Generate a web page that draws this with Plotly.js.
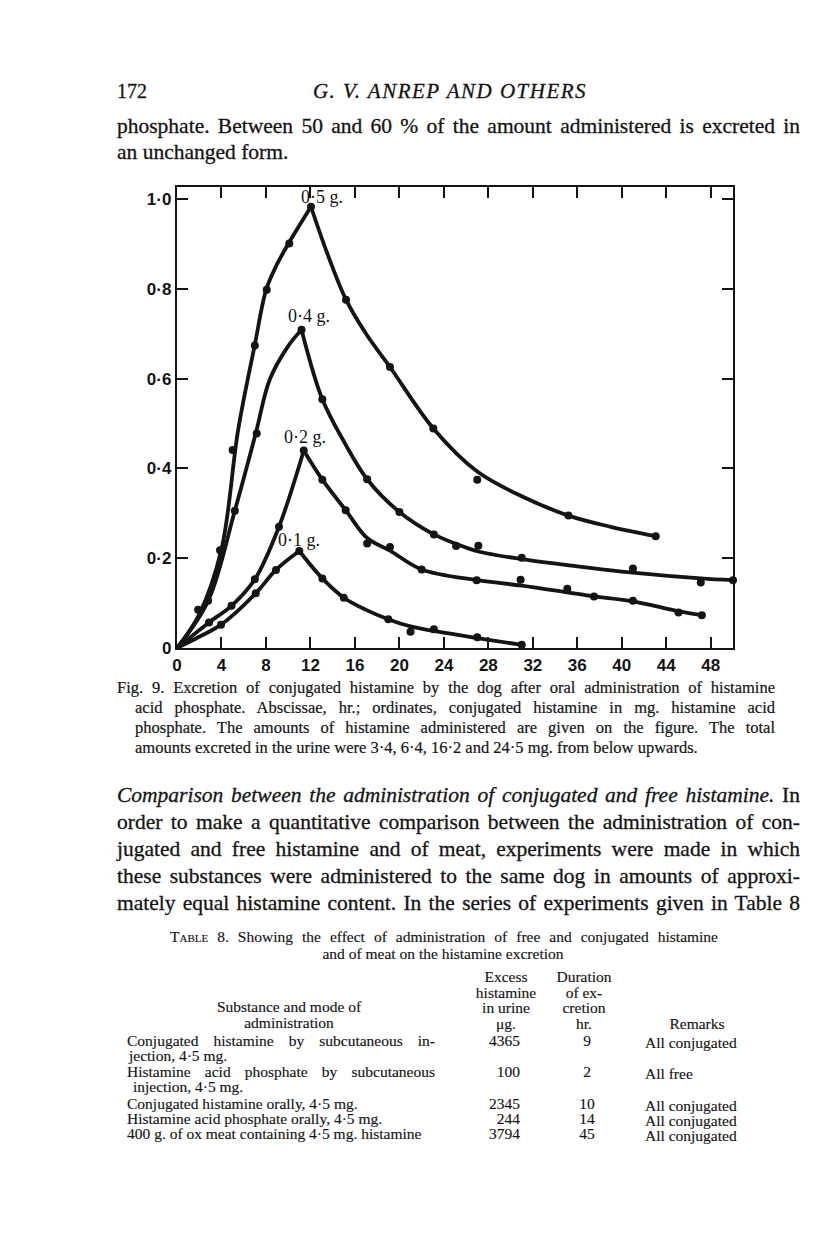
<!DOCTYPE html>
<html>
<head>
<meta charset="utf-8">
<script src="https://cdn.plot.ly/plotly-3.0.1.min.js"></script>
<style>
  body { margin: 0; background: #fff; }
  #page { position: relative; width: 816px; height: 1258px; overflow: hidden; font-family: "Liberation Serif", serif; color: #141414; -webkit-text-stroke: 0.3px #141414; }
  #fig { position: absolute; left: 0; top: 0; width: 816px; height: 1258px; -webkit-text-stroke: 0; }
  .t { position: absolute; white-space: nowrap; }
  .body { font-size: 21.5px; line-height: 22px; }
  .cap { font-size: 16.5px; line-height: 18px; -webkit-text-stroke: 0.2px #141414; }
  .tab { font-size: 15.5px; line-height: 15.5px; -webkit-text-stroke: 0.15px #141414; }
  .c { text-align: center; }
  .r { text-align: right; }
</style>
</head>
<body>
<div id="page">
  <div id="fig"></div>

  <div class="t" style="left:117px; top:80px; font-size:20px;">172</div>
  <div class="t c" style="left:250px; top:79px; width:400px; font-size:21px; font-style:italic; letter-spacing:1.5px;">G. V. ANREP AND OTHERS</div>

  <div class="t body" data-w="683" style="left:117px; top:115px;">phosphate. Between 50 and 60 % of the amount administered is excreted in</div>
  <div class="t body" style="left:117px; top:141px;">an unchanged form.</div>

  <div class="t cap" data-w="658" style="left:117px; top:679px;">Fig. 9. Excretion of conjugated histamine by the dog after oral administration of histamine</div>
  <div class="t cap" data-w="640" style="left:135px; top:699px;">acid phosphate. Abscissae, hr.; ordinates, conjugated histamine in mg. histamine acid</div>
  <div class="t cap" data-w="640" style="left:135px; top:719px;">phosphate. The amounts of histamine administered are given on the figure. The total</div>
  <div class="t cap" style="left:135px; top:739px;">amounts excreted in the urine were 3·4, 6·4, 16·2 and 24·5 mg. from below upwards.</div>

  <div class="t body" data-w="683" style="left:117px; top:784px;"><i>Comparison between the administration of conjugated and free histamine.</i> In</div>
  <div class="t body" data-w="683" style="left:117px; top:811px;">order to make a quantitative comparison between the administration of con-</div>
  <div class="t body" data-w="683" style="left:117px; top:838px;">jugated and free histamine and of meat, experiments were made in which</div>
  <div class="t body" data-w="683" style="left:117px; top:865px;">these substances were administered to the same dog in amounts of approxi-</div>
  <div class="t body" data-w="683" style="left:117px; top:892px;">mately equal histamine content. In the series of experiments given in Table 8</div>

  <div class="t tab" data-w="548" style="left:170px; top:929px;"><span style="font-variant:small-caps;">Table</span> 8. Showing the effect of administration of free and conjugated histamine</div>
  <div class="t tab c" style="left:243px; top:946px; width:400px;">and of meat on the histamine excretion</div>

  <div class="t tab c" style="left:456px; top:969px; width:100px;">Excess<br>histamine<br>in urine<br>μg.</div>
  <div class="t tab c" style="left:534px; top:969px; width:100px;">Duration<br>of ex-<br>cretion<br>hr.</div>
  <div class="t tab c" style="left:189px; top:999px; width:200px;">Substance and mode of<br>administration</div>
  <div class="t tab c" style="left:647px; top:1016px; width:100px;">Remarks</div>

  <div class="t tab" data-w="308" style="left:127px; top:1033px;">Conjugated histamine by subcutaneous in-</div>
  <div class="t tab" style="left:129px; top:1048px;">jection, 4·5 mg.</div>
  <div class="t tab" data-w="308" style="left:127px; top:1064px;">Histamine acid phosphate by subcutaneous</div>
  <div class="t tab" style="left:133px; top:1079px;">injection, 4·5 mg.</div>
  <div class="t tab" style="left:127px; top:1096px;">Conjugated histamine orally, 4·5 mg.</div>
  <div class="t tab" style="left:127px; top:1111px;">Histamine acid phosphate orally, 4·5 mg.</div>
  <div class="t tab" style="left:127px; top:1126px;">400 g. of ox meat containing 4·5 mg. histamine</div>

  <div class="t tab r" style="left:460px; top:1033px; width:60px;">4365</div>
  <div class="t tab r" style="left:460px; top:1064px; width:60px;">100</div>
  <div class="t tab r" style="left:460px; top:1096px; width:60px;">2345</div>
  <div class="t tab r" style="left:460px; top:1111px; width:60px;">244</div>
  <div class="t tab r" style="left:460px; top:1126px; width:60px;">3794</div>

  <div class="t tab c" style="left:557px; top:1033px; width:60px;">9</div>
  <div class="t tab c" style="left:557px; top:1064px; width:60px;">2</div>
  <div class="t tab c" style="left:557px; top:1096px; width:60px;">10</div>
  <div class="t tab c" style="left:557px; top:1111px; width:60px;">14</div>
  <div class="t tab c" style="left:557px; top:1126px; width:60px;">45</div>

  <div class="t tab" style="left:645px; top:1035px;">All conjugated</div>
  <div class="t tab" style="left:645px; top:1066px;">All free</div>
  <div class="t tab" style="left:645px; top:1098px;">All conjugated</div>
  <div class="t tab" style="left:645px; top:1113px;">All conjugated</div>
  <div class="t tab" style="left:645px; top:1128px;">All conjugated</div>
</div>

<script>
// axis ticks
var hourTicks = [0, 4, 8, 12, 16, 20, 24, 28, 32, 36, 40, 44, 48];
var mgTicks = [0, 0.2, 0.4, 0.6, 0.8, 1.0];
var mgTickText = ["0", "0·2", "0·4", "0·6", "0·8", "1·0"];

// dose labels on the figure
var doseLabels = ["0·5 g.", "0·4 g.", "0·2 g.", "0·1 g."];
var labelX = [13.0, 11.9, 11.5, 11.0];
var labelY = [1.005, 0.74, 0.47, 0.24];

// 0.5 g. - observed points
var hr05 = [1.9, 3.87, 5.0, 7.0, 8.07, 10.1, 12.05, 15.2, 19.15, 23.05, 27.0, 35.2, 43.05];
var mg05 = [0.085, 0.218, 0.441, 0.674, 0.798, 0.901, 0.983, 0.776, 0.626, 0.489, 0.375, 0.295, 0.249];
// 0.5 g. - drawn curve (rise, fall)
var riseHr05 = [0, 2, 4, 5.5, 7, 8.04, 9, 10.07, 12.05];
var riseMg05 = [0, 0.075, 0.22, 0.486, 0.676, 0.8, 0.855, 0.903, 0.983];
var fallHr05 = [12.05, 13.5, 15.2, 17, 19.15, 23.05, 27, 31, 35.2, 39, 43.05];
var fallMg05 = [0.983, 0.88, 0.776, 0.7, 0.626, 0.489, 0.393, 0.338, 0.295, 0.27, 0.249];

// 0.4 g.
var hr04 = [2.8, 5.2, 7.17, 11.2, 13.07, 17.1, 20.0, 23.1, 25.1, 27.1, 31.0, 41.0, 47.1, 50.0];
var mg04 = [0.105, 0.306, 0.478, 0.709, 0.554, 0.376, 0.303, 0.253, 0.227, 0.228, 0.201, 0.177, 0.146, 0.151];
var riseHr04 = [0, 2.8, 5.2, 7.1, 8.34, 9.98, 11.2];
var riseMg04 = [0, 0.105, 0.306, 0.48, 0.598, 0.672, 0.709];
var fallHr04 = [11.2, 13.07, 15.1, 17.1, 20, 23.1, 25.1, 27.1, 31, 36, 41, 47.1, 50];
var fallMg04 = [0.709, 0.554, 0.456, 0.376, 0.303, 0.253, 0.232, 0.215, 0.198, 0.182, 0.168, 0.155, 0.151];

// 0.2 g.
var hr02 = [2.88, 4.9, 7.0, 9.17, 11.4, 13.07, 15.17, 17.1, 19.15, 22.0, 26.95, 30.9, 35.1, 37.5, 41.0, 45.1, 47.2];
var mg02 = [0.057, 0.094, 0.153, 0.27, 0.44, 0.375, 0.307, 0.233, 0.225, 0.175, 0.151, 0.152, 0.132, 0.115, 0.105, 0.079, 0.073];
var riseHr02 = [0, 2.88, 4.9, 7.0, 9.17, 11.4];
var riseMg02 = [0, 0.057, 0.094, 0.153, 0.27, 0.44];
var fallHr02 = [11.4, 13.07, 15.17, 17.1, 19.15, 22, 27, 31, 35.1, 37.5, 41, 45.1, 47.2];
var fallMg02 = [0.44, 0.375, 0.307, 0.245, 0.217, 0.175, 0.151, 0.139, 0.124, 0.115, 0.104, 0.082, 0.073];

// 0.1 g.
var hr01 = [3.96, 7.08, 8.9, 11.0, 13.07, 15.0, 19.0, 21.0, 23.1, 27.0, 31.0];
var mg01 = [0.052, 0.122, 0.174, 0.216, 0.155, 0.112, 0.064, 0.036, 0.042, 0.024, 0.007];
var riseHr01 = [0, 2, 3.96, 7.08, 8.9, 11.0];
var riseMg01 = [0, 0.025, 0.052, 0.122, 0.174, 0.216];
var fallHr01 = [11.0, 13.07, 15.0, 17, 19.0, 21.0, 23.1, 27.0, 31.0];
var fallMg01 = [0.216, 0.155, 0.112, 0.085, 0.064, 0.048, 0.038, 0.022, 0.007];

// stretch justified lines to the measured widths
function justify() {
    document.querySelectorAll("[data-w]").forEach(function(el) {
        el.style.wordSpacing = "0px";
        var natural = el.getBoundingClientRect().width;
        var gaps = (el.textContent.match(/ /g) || []).length;
        if (gaps) el.style.wordSpacing = ((+el.dataset.w - natural) / gaps) + "px";
    });
}
justify();
if (document.fonts) document.fonts.ready.then(justify);

function curve(x, y) {
    return {x: x, y: y, mode: "lines", type: "scatter", hoverinfo: "skip",
        line: {color: "#141414", width: 3.8, shape: "spline", smoothing: 1}};
}
function dots(x, y) {
    return {x: x, y: y, mode: "markers", type: "scatter", cliponaxis: false,
        marker: {color: "#141414", size: 8}};
}

var data = [
    curve(riseHr05, riseMg05), curve(fallHr05, fallMg05), dots(hr05, mg05),
    curve(riseHr04, riseMg04), curve(fallHr04, fallMg04), dots(hr04, mg04),
    curve(riseHr02, riseMg02), curve(fallHr02, fallMg02), dots(hr02, mg02),
    curve(riseHr01, riseMg01), curve(fallHr01, fallMg01), dots(hr01, mg01)
];

var annotations = doseLabels.map(function(t, i) {
    return {x: labelX[i], y: labelY[i], text: t, showarrow: false,
        font: {family: "Liberation Serif", size: 18, color: "#141414"}};
});

var axisStyle = {
    showline: true, linecolor: "#141414", linewidth: 2.2, mirror: "ticks",
    ticks: "inside", ticklen: 11, tickwidth: 2, tickcolor: "#141414",
    showgrid: false, zeroline: false,
    tickfont: {family: "Liberation Sans Narrow, Liberation Sans, sans-serif", size: 17, color: "#141414", weight: "bold"}
};

var layout = {
    width: 816, height: 1258,
    margin: {l: 177, r: 83, t: 187, b: 610},
    paper_bgcolor: "rgba(0,0,0,0)", plot_bgcolor: "#fff",
    showlegend: false,
    xaxis: Object.assign({}, axisStyle, {range: [0, 50], tickvals: hourTicks}),
    yaxis: Object.assign({}, axisStyle, {range: [0, 1.027], tickvals: mgTicks, ticktext: mgTickText}),
    annotations: annotations
};

Plotly.newPlot("fig", data, layout, {staticPlot: true});
</script>
</body>
</html>
